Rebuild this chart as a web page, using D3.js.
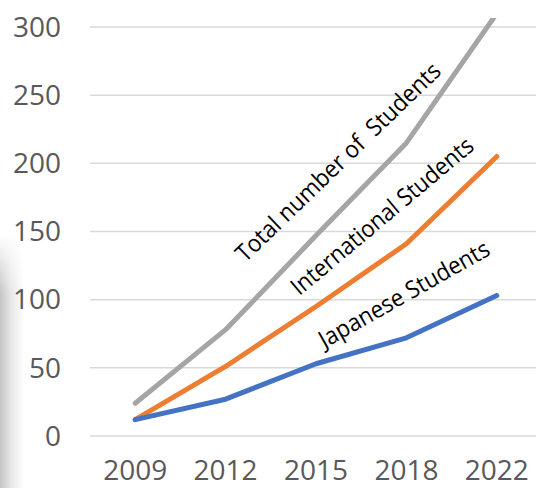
<!DOCTYPE html>
<html>
<head>
<meta charset="utf-8">
<script src="https://cdn.jsdelivr.net/npm/d3@7"></script>
<style>
  body { margin: 0; background: #fff; }
  svg { display: block; font-family: "Open Sans", sans-serif; }
</style>
</head>
<body>
<div id="chart"></div>
<script>
var years = ["2009", "2012", "2015", "2018", "2022"];
var japanese = [12, 27, 53, 72, 103];
var international = [12, 51, 95, 141, 205];
var total = [24, 78, 147, 215, 310];
var yTicks = [0, 50, 100, 150, 200, 250, 300];

var W = 536, H = 488;
var margin = {top: 27, right: -6, bottom: 52, left: 90};

var svg = d3.select("#chart").append("svg")
    .attr("width", W)
    .attr("height", H);

// soft shadow strip on the left edge
var defs = svg.append("defs");
var grad = defs.append("linearGradient").attr("id", "shade")
    .attr("x1", "0%").attr("x2", "100%");
grad.append("stop").attr("offset", "0%").attr("stop-color", "#c4c4c4");
grad.append("stop").attr("offset", "45%").attr("stop-color", "#e6e6e6");
grad.append("stop").attr("offset", "100%").attr("stop-color", "#fff");
var vgrad = defs.append("linearGradient").attr("id", "vfade")
    .attr("x1", "0%").attr("x2", "0%").attr("y1", "0%").attr("y2", "100%");
vgrad.append("stop").attr("offset", "0%").attr("stop-color", "#fff").attr("stop-opacity", 1);
vgrad.append("stop").attr("offset", "100%").attr("stop-color", "#fff").attr("stop-opacity", 0);
svg.append("rect").attr("x", 0).attr("y", 235).attr("width", 24).attr("height", 253)
    .attr("fill", "url(#shade)");
svg.append("rect").attr("x", 0).attr("y", 235).attr("width", 24).attr("height", 60)
    .attr("fill", "url(#vfade)");

var x = d3.scaleBand()
    .domain(years)
    .range([margin.left, W - margin.right]);

var y = d3.scaleLinear()
    .domain([0, 300])
    .range([H - margin.bottom, margin.top]);

defs.append("clipPath").attr("id", "plot")
  .append("rect").attr("x", 0).attr("y", 18).attr("width", W).attr("height", H);

// gridlines
svg.append("g").selectAll("line")
    .data(yTicks)
    .enter().append("line")
    .attr("x1", margin.left)
    .attr("x2", W)
    .attr("y1", function (d) { return y(d); })
    .attr("y2", function (d) { return y(d); })
    .attr("stroke", "#d9d9d9")
    .attr("stroke-width", 1.5);

// y axis labels
svg.append("g").selectAll("text")
    .data(yTicks)
    .enter().append("text")
    .attr("x", 61)
    .attr("y", function (d) { return y(d); })
    .attr("dy", "0.35em")
    .attr("text-anchor", "end")
    .attr("fill", "#595959")
    .attr("font-size", 28)
    .text(function (d) { return d; });

// x axis labels
svg.append("g").selectAll("text")
    .data(years)
    .enter().append("text")
    .attr("x", function (d) { return x(d) + x.bandwidth() / 2; })
    .attr("y", 480)
    .attr("text-anchor", "middle")
    .attr("fill", "#595959")
    .attr("font-size", 28)
    .text(function (d) { return d; });

var line = d3.line()
    .x(function (d, i) { return x(years[i]) + x.bandwidth() / 2; })
    .y(function (d) { return y(d); });

var series = [
    {values: total, color: "#a5a5a5"},
    {values: international, color: "#ed7d31"},
    {values: japanese, color: "#4472c4"}
];

svg.append("g").attr("clip-path", "url(#plot)")
    .selectAll("path")
    .data(series)
    .enter().append("path")
    .attr("d", function (d) { return line(d.values); })
    .attr("fill", "none")
    .attr("stroke", function (d) { return d.color; })
    .attr("stroke-width", 5)
    .attr("stroke-linecap", "round")
    .attr("stroke-linejoin", "round");

// slanted series labels
var labels = [
    {text: "Total number of  Students", cx: 338, cy: 162, angle: -44, len: 274},
    {text: "International Students", cx: 382, cy: 216, angle: -40, len: 230},
    {text: "Japanese Students", cx: 404, cy: 294, angle: -29.5, len: 192}
];

svg.append("g").selectAll("text")
    .data(labels)
    .enter().append("text")
    .attr("transform", function (d) {
        return "translate(" + d.cx + "," + d.cy + ") rotate(" + d.angle + ")";
    })
    .attr("text-anchor", "middle")
    .attr("dy", "0.35em")
    .attr("font-size", 24)
    .attr("fill", "#000")
    .attr("textLength", function (d) { return d.len; })
    .attr("lengthAdjust", "spacingAndGlyphs")
    .style("white-space", "pre")
    .text(function (d) { return d.text; });
</script>
</body>
</html>
